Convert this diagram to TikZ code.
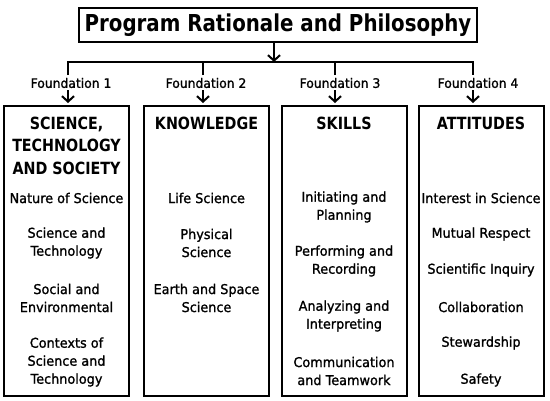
\documentclass[tikz,border=0pt]{standalone}
\usepackage{fontspec}
\setmainfont{DejaVu Sans}[FakeStretch=0.95,UprightFeatures={FakeBold=1.2}]
\newfontfamily\heavyfont{DejaVu Sans}[FakeStretch=0.85]
\usetikzlibrary{arrows.meta}
\tikzset{
  ln/.style={line width=2pt},
  arr/.style={line width=2pt,-{Straight Barb[length=5.5pt,width=12pt,line width=2pt]}},
  titlebox/.style={draw,line width=2pt,inner sep=0pt,minimum width=398pt,minimum height=34pt,font=\heavyfont\bfseries\fontsize{23.3}{26}\selectfont},
  colbox/.style={draw,line width=2pt,inner sep=0pt,minimum width=125pt,minimum height=290pt},
  hd/.style={align=center,inner sep=0pt,font=\heavyfont\bfseries\fontsize{16.8}{22.5}\selectfont},
  item/.style={align=center,inner sep=0pt,font=\fontsize{13.5}{18}\selectfont},
  fnd/.style={inner sep=0pt,font=\fontsize{13}{15}\selectfont}
}
\begin{document}
\begin{tikzpicture}[x=1pt,y=-1pt]
\useasboundingbox[fill=white] (0,0) rectangle (550,400);
% title
\node[titlebox] (title) at (278,25) {Program Rationale and Philosophy};
\coordinate (j) at (274,62);
\coordinate (d1) at (68,75);
\coordinate (d2) at (203,75);
\coordinate (d3) at (335,75);
\coordinate (d4) at (473,75);
\draw[arr] (title.south -| j) -- (j);
\draw[ln] (d1) -- (d1 |- j) -- (d4 |- j) -- (d4);
\draw[ln] (d2) -- (d2 |- j);
\draw[ln] (d3) -- (d3 |- j);
% columns
\node[colbox] (b1) at (66.5,251) {};
\node[colbox] (b2) at (206.5,251) {};
\node[colbox] (b3) at (344,251) {};
\node[colbox] (b4) at (481,251) {};
% foundation labels
\node[fnd] (l1) at (71,83) {Foundation 1};
\node[fnd] (l2) at (206,83) {Foundation 2};
\node[fnd] (l3) at (340,83) {Foundation 3};
\node[fnd] (l4) at (478,83) {Foundation 4};
\draw[arr,shorten >=2pt] ([yshift=-2pt]l1.south -| d1) -- (d1 |- b1.north);
\draw[arr,shorten >=2pt] ([yshift=-2pt]l2.south -| d2) -- (d2 |- b2.north);
\draw[arr,shorten >=2pt] ([yshift=-2pt]l3.south -| d3) -- (d3 |- b3.north);
\draw[arr,shorten >=2pt] ([yshift=-2pt]l4.south -| d4) -- (d4 |- b4.north);
% column 1
\node[hd] (h1) at (66.5,145.5) {SCIENCE,\\TECHNOLOGY\\AND SOCIETY};
\node[item] (t11) at (66.5,198) {Nature of Science};
\node[item] (t12) at (66.5,243) {Science and\\Technology};
\node[item] (t13) at (66.5,298) {Social and\\Environmental};
\node[item] (t14) at (66.5,362) {Contexts of\\Science and\\Technology};
% column 2
\node[hd] (h2) at (206.5,123) {KNOWLEDGE};
\node[item] (t21) at (206.5,198) {Life Science};
\node[item] (t22) at (206.5,243) {Physical\\Science};
\node[item] (t23) at (206.5,298) {Earth and Space\\Science};
% column 3
\node[hd] (h3) at (344,123) {SKILLS};
\node[item] (t31) at (344,207) {Initiating and\\Planning};
\node[item] (t32) at (344,261) {Performing and\\Recording};
\node[item] (t33) at (344,316) {Analyzing and\\Interpreting};
\node[item] (t34) at (344,371) {Communication\\and Teamwork};
% column 4
\node[hd] (h4) at (481,123) {ATTITUDES};
\node[item] (t41) at (481,198) {Interest in Science};
\node[item] (t42) at (481,234) {Mutual Respect};
\node[item] (t43) at (481,270) {Scientific Inquiry};
\node[item] (t44) at (481,307) {Collaboration};
\node[item] (t45) at (481,343) {Stewardship};
\node[item] (t46) at (481,380) {Safety};
\end{tikzpicture}
\end{document}
